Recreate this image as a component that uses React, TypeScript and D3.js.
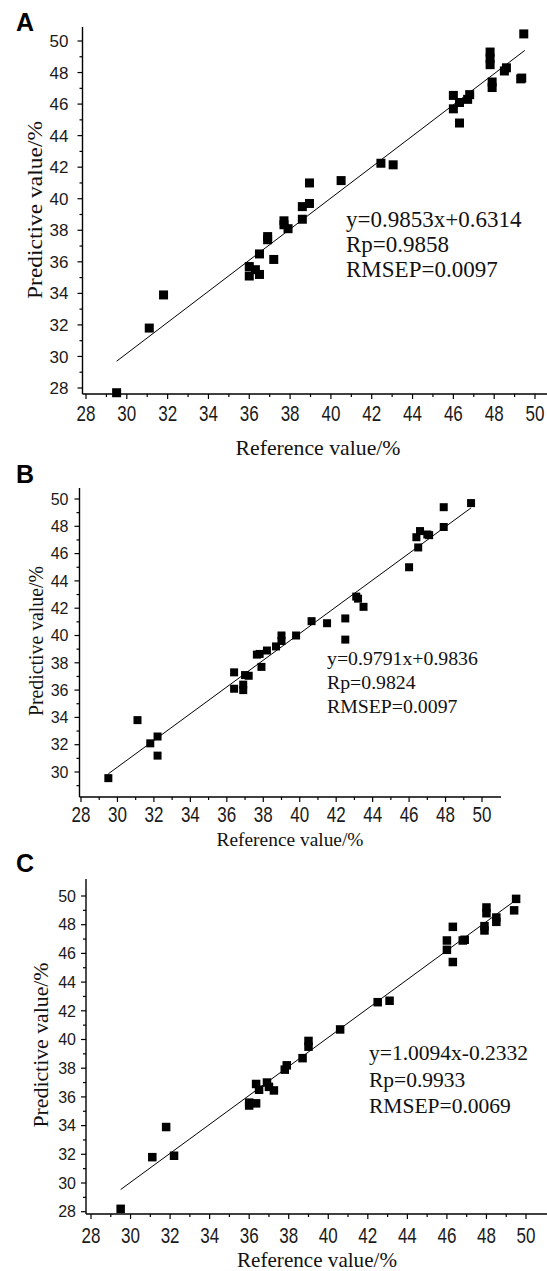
import React from "react";
import * as d3 from "d3";

// ---------- data ----------
const majorTicks = [28, 30, 32, 34, 36, 38, 40, 42, 44, 46, 48, 50];
const minorTicks = [29, 31, 33, 35, 37, 39, 41, 43, 45, 47, 49];
const yTicksB = [30, 32, 34, 36, 38, 40, 42, 44, 46, 48, 50];

const refA = [29.5, 31.1, 31.8, 36.0, 36.0, 36.3, 36.5, 36.5, 36.9, 36.9, 37.2, 37.7, 37.7, 37.9, 38.6, 38.6, 38.95, 38.95, 40.5, 42.45, 43.05, 46.0, 46.0, 46.3, 46.3, 46.7, 46.8, 47.8, 47.8, 47.8, 47.9, 47.9, 48.5, 48.6, 49.3, 49.35, 49.45];
const predA = [27.7, 31.8, 33.9, 35.7, 35.1, 35.5, 36.5, 35.2, 37.6, 37.4, 36.15, 38.6, 38.35, 38.1, 39.5, 38.7, 39.7, 41.0, 41.15, 42.25, 42.15, 46.55, 45.7, 46.1, 44.8, 46.3, 46.6, 49.3, 48.9, 48.5, 47.4, 47.05, 48.1, 48.3, 47.6, 47.65, 50.45];

const refB = [29.5, 31.1, 31.8, 32.2, 32.2, 36.4, 36.4, 36.9, 36.9, 37.0, 37.2, 37.65, 37.8, 37.9, 38.2, 38.7, 39.0, 39.0, 39.8, 40.65, 41.5, 42.5, 42.5, 43.1, 43.2, 43.5, 46.0, 46.4, 46.5, 46.6, 47.0, 47.1, 47.9, 47.9, 49.4];
const predB = [29.55, 33.8, 32.1, 32.6, 31.2, 37.3, 36.1, 36.4, 36.0, 37.1, 37.05, 38.6, 38.65, 37.7, 38.9, 39.2, 40.0, 39.6, 40.0, 41.05, 40.9, 41.25, 39.7, 42.85, 42.7, 42.1, 45.0, 47.2, 46.45, 47.65, 47.4, 47.35, 49.4, 47.95, 49.7];

const refC = [29.5, 31.1, 31.8, 32.2, 36.0, 36.0, 36.35, 36.35, 36.5, 36.9, 37.0, 37.25, 37.8, 37.9, 38.7, 39.0, 39.0, 40.6, 42.5, 43.1, 46.0, 46.0, 46.3, 46.3, 46.8, 46.9, 47.9, 47.9, 48.0, 48.0, 48.5, 48.5, 49.4, 49.5];
const predC = [28.2, 31.8, 33.9, 31.9, 35.6, 35.4, 36.9, 35.55, 36.5, 37.0, 36.7, 36.45, 37.9, 38.2, 38.7, 39.9, 39.5, 40.7, 42.6, 42.7, 46.9, 46.25, 47.85, 45.4, 46.9, 46.95, 47.9, 47.6, 49.2, 48.8, 48.5, 48.2, 49.0, 49.8];

const fitA = { slope: 0.9853, intercept: 0.6314, from: 29.5, to: 49.5 };
const fitB = { slope: 0.9791, intercept: 0.9836, from: 29.5, to: 49.4 };
const fitC = { slope: 1.0094, intercept: -0.2332, from: 29.5, to: 49.6 };

const statsA = ["y=0.9853x+0.6314", "Rp=0.9858", "RMSEP=0.0097"];
const statsB = ["y=0.9791x+0.9836", "Rp=0.9824", "RMSEP=0.0097"];
const statsC = ["y=1.0094x-0.2332", "Rp=0.9933", "RMSEP=0.0069"];

const xTitle = "Reference value/%";
const yTitle = "Predictive value/%";

// ---------- layout ----------
type Layout = {
  letter: string; letterY: number;
  axisX: number; axisTop: number; axisY: number; axisRight: number;
  x28: number; x50: number; y50: number; y28: number;
  yTickFont: number; yLabelGap: number; xLabelBase: number;
  xTitleX: number; xTitleBase: number; xTitleFont: number; xTitleLen: number;
  yTitleY: number; yTitleBase: number; yTitleFont: number; yTitleLen: number;
  statX: number; statBase: number; statFont: number; statGap: number;
  marker: number;
};

const serif = "'Liberation Serif', 'Times New Roman', serif";
const sans = "'Liberation Sans', Arial, sans-serif";

function Panel({ L, refs, preds, fit, stats, yTicks }: { L: Layout; refs: number[]; preds: number[]; fit: { slope: number; intercept: number; from: number; to: number }; stats: string[]; yTicks: number[] }) {
  const x = d3.scaleLinear().domain([28, 50]).range([L.x28, L.x50]);
  const y = d3.scaleLinear().domain([28, 50]).range([L.y28, L.y50]);
  const yMin = y.invert(L.axisY);
  const yMax = y.invert(L.axisTop);
  const xMax = x.invert(L.axisRight);
  const line = d3.line<number>().x((d) => x(d)).y((d) => y(fit.slope * d + fit.intercept));
  const yMinor = minorTicks.filter((t) => t > yMin && t < yMax);
  const yMajor = yTicks.filter((t) => t >= yMin - 0.01 && t <= yMax);
  const xMajor = majorTicks.filter((t) => t <= xMax);
  const xMinor = minorTicks.filter((t) => t <= xMax);
  const m = L.marker;
  return (
    <g>
      <text x={16} y={L.letterY} fontFamily={sans} fontWeight="bold" fontSize={25}>{L.letter}</text>
      <line x1={L.axisX} x2={L.axisX} y1={L.axisTop} y2={L.axisY} stroke="#000" strokeWidth={1.4} />
      <line x1={L.axisX} x2={L.axisRight} y1={L.axisY} y2={L.axisY} stroke="#000" strokeWidth={1.4} />
      {yMajor.map((t) => (
        <g key={"ym" + t}>
          <line x1={L.axisX - 5} x2={L.axisX} y1={y(t)} y2={y(t)} stroke="#000" strokeWidth={1.2} />
          <text x={L.axisX - L.yLabelGap} y={y(t)} dy="0.36em" textAnchor="end" fontFamily={sans} fontSize={L.yTickFont} fill="#1a1a1a">{t}</text>
        </g>
      ))}
      {yMinor.map((t) => (
        <line key={"yn" + t} x1={L.axisX - 3} x2={L.axisX} y1={y(t)} y2={y(t)} stroke="#000" strokeWidth={1.2} />
      ))}
      {xMajor.map((t) => (
        <g key={"xm" + t}>
          <line x1={x(t)} x2={x(t)} y1={L.axisY} y2={L.axisY + 5} stroke="#000" strokeWidth={1.2} />
          <text transform={`translate(${x(t)},${L.xLabelBase}) scale(1,1.25)`} textAnchor="middle" fontFamily={sans} fontSize={17} fill="#1a1a1a">{t}</text>
        </g>
      ))}
      {xMinor.map((t) => (
        <line key={"xn" + t} x1={x(t)} x2={x(t)} y1={L.axisY} y2={L.axisY + 3} stroke="#000" strokeWidth={1.2} />
      ))}
      <path d={line([fit.from, fit.to]) || ""} stroke="#000" strokeWidth={1} fill="none" />
      {refs.map((r, i) => (
        <rect key={"p" + i} x={x(r) - m / 2} y={y(preds[i]) - m / 2} width={m} height={m} fill="#000" />
      ))}
      {stats.map((s, i) => (
        <text key={"s" + i} x={L.statX} y={L.statBase + i * L.statGap} fontFamily={serif} fontSize={L.statFont} fill="#111">{s}</text>
      ))}
      <text x={L.xTitleX} y={L.xTitleBase} textAnchor="middle" fontFamily={serif} fontSize={L.xTitleFont} textLength={L.xTitleLen} lengthAdjust="spacingAndGlyphs" fill="#111">{xTitle}</text>
      <text transform={`translate(${L.yTitleBase},${L.yTitleY}) rotate(-90)`} textAnchor="middle" fontFamily={serif} fontSize={L.yTitleFont} textLength={L.yTitleLen} lengthAdjust="spacingAndGlyphs" fill="#111">{yTitle}</text>
    </g>
  );
}

const LA: Layout = {
  letter: "A", letterY: 30.5,
  axisX: 82.5, axisTop: 27, axisY: 394, axisRight: 550,
  x28: 86, x50: 535, y50: 41, y28: 388,
  yTickFont: 17, yLabelGap: 14, xLabelBase: 421,
  xTitleX: 318, xTitleBase: 455, xTitleFont: 22, xTitleLen: 165,
  yTitleY: 210, yTitleBase: 42, yTitleFont: 21.5, yTitleLen: 178,
  statX: 346, statBase: 226.5, statFont: 23, statGap: 25,
  marker: 9,
};

const LB: Layout = {
  letter: "B", letterY: 483,
  axisX: 79.5, axisTop: 488, axisY: 797, axisRight: 501,
  x28: 81, x50: 482, y50: 499, y28: 799.3,
  yTickFont: 16, yLabelGap: 11, xLabelBase: 822,
  xTitleX: 290, xTitleBase: 846, xTitleFont: 19.5, xTitleLen: 147,
  yTitleY: 641, yTitleBase: 43, yTitleFont: 20, yTitleLen: 150,
  statX: 327, statBase: 664.5, statFont: 19.8, statGap: 24,
  marker: 8,
};

const LC: Layout = {
  letter: "C", letterY: 871.5,
  axisX: 86, axisTop: 879, axisY: 1214, axisRight: 550,
  x28: 91, x50: 526, y50: 896, y28: 1211.7,
  yTickFont: 16, yLabelGap: 10, xLabelBase: 1243,
  xTitleX: 317, xTitleBase: 1266.5, xTitleFont: 21, xTitleLen: 160,
  yTitleY: 1045, yTitleBase: 48, yTitleFont: 21.5, yTitleLen: 165,
  statX: 369, statBase: 1060, statFont: 21.5, statGap: 26.5,
  marker: 8.5,
};

export default function App() {
  return (
    <svg width={547} height={1271} viewBox="0 0 547 1271" style={{ position: "absolute", left: 0, top: 0, background: "#fff" }}>
      <rect width={547} height={1271} fill="#fff" />
      <Panel L={LA} refs={refA} preds={predA} fit={fitA} stats={statsA} yTicks={majorTicks} />
      <Panel L={LB} refs={refB} preds={predB} fit={fitB} stats={statsB} yTicks={yTicksB} />
      <Panel L={LC} refs={refC} preds={predC} fit={fitC} stats={statsC} yTicks={majorTicks} />
    </svg>
  );
}
